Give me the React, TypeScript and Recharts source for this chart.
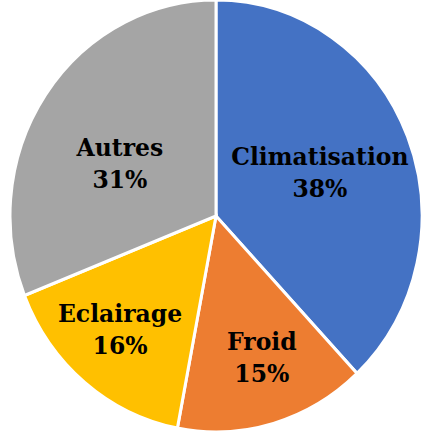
import { PieChart, Pie, Cell } from 'recharts';

const categories = ['Climatisation', 'Froid', 'Eclairage', 'Autres'];
const shares = [38, 15, 16, 31];
const colors = ['#4472C4', '#ED7D31', '#FFC000', '#A5A5A5'];

// where each label sits (Excel "best fit"): distance from centre and a small angle nudge
const labelRadius = [109, 150, 150.5, 105];
const labelAngleShift = [-4, 1.6, 0, 10.4];

const data = categories.map((name, i) => ({ name, value: shares[i] }));

const RADIAN = Math.PI / 180;
// the source picture is slightly stretched vertically
const STRETCH = 1.0485;

function renderLabel(props: any) {
    const { cx, cy, midAngle, index, name, percent } = props;
    const r = labelRadius[index];
    const a = (midAngle + labelAngleShift[index]) * RADIAN;
    const x = cx + r * Math.cos(-a);
    const y = cy + r * Math.sin(-a);
    return (
        <text
            x={x}
            y={y}
            textAnchor="middle"
            fill="#000"
            fontFamily="'DejaVu Serif', serif"
            fontWeight="bold"
            fontSize={23.5}
        >
            <tspan x={x} y={y - 15.3}>{name}</tspan>
            <tspan x={x} y={y + 15.3}>{`${Math.round(percent * 100)}%`}</tspan>
        </text>
    );
}

export default function App() {
    return (
        <div style={{ position: 'absolute', left: 0, top: 0, width: 424, height: 434, background: '#fff', overflow: 'hidden' }}>
            <div style={{ transform: `scaleY(${STRETCH})`, transformOrigin: 'top left' }}>
                <PieChart width={424} height={414} margin={{ top: 0, right: 0, bottom: 0, left: 0 }}>
                    <Pie
                        data={data}
                        dataKey="value"
                        nameKey="name"
                        cx={216}
                        cy={206}
                        outerRadius={206}
                        startAngle={90}
                        endAngle={-270}
                        stroke="#fff"
                        strokeWidth={3}
                        label={renderLabel}
                        labelLine={false}
                        isAnimationActive={false}
                    >
                        {data.map((d, i) => (
                            <Cell key={d.name} fill={colors[i]} />
                        ))}
                    </Pie>
                </PieChart>
            </div>
        </div>
    );
}
